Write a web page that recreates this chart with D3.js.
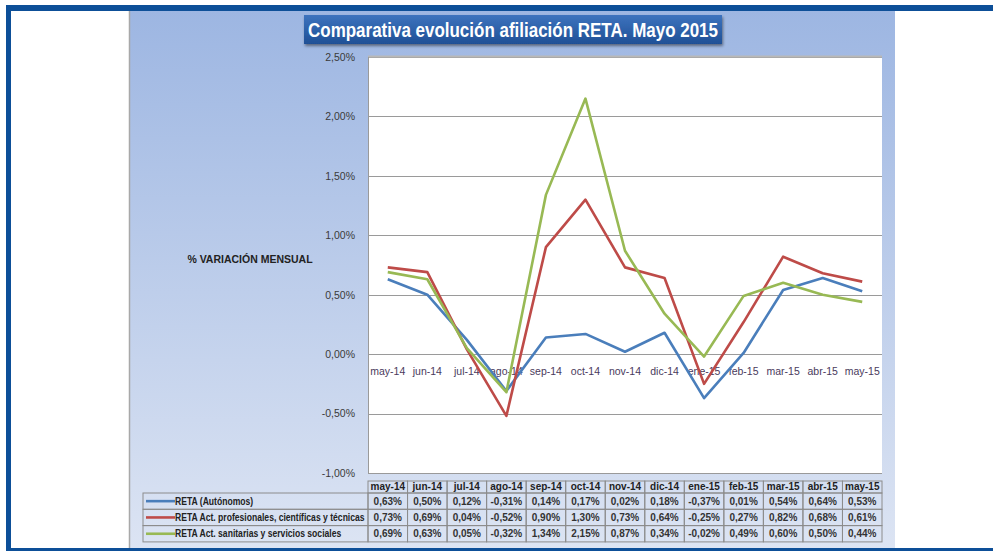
<!DOCTYPE html>
<html><head><meta charset="utf-8">
<script src="https://cdn.jsdelivr.net/npm/d3@7/dist/d3.min.js"></script>
<style>html,body{margin:0;padding:0;background:#fff;}svg{display:block;font-family:"Liberation Sans",Arial,sans-serif;}</style>
</head><body><svg id="c" width="993" height="551"></svg>
<script>
const categories = ["may-14","jun-14","jul-14","ago-14","sep-14","oct-14","nov-14","dic-14","ene-15","feb-15","mar-15","abr-15","may-15"];
const retaAutonomos = [0.63,0.50,0.12,-0.31,0.14,0.17,0.02,0.18,-0.37,0.01,0.54,0.64,0.53];
const retaProfesionales = [0.73,0.69,0.04,-0.52,0.90,1.30,0.73,0.64,-0.25,0.27,0.82,0.68,0.61];
const retaSanitarias = [0.69,0.63,0.05,-0.32,1.34,2.15,0.87,0.34,-0.02,0.49,0.60,0.50,0.44];
const seriesNames = ["RETA (Autónomos)","RETA Act. profesionales, científicas y técnicas","RETA Act. sanitarias y servicios sociales"];
const yTicks = [-1,-0.5,0,0.5,1,1.5,2,2.5];
const title = "Comparativa evolución afiliación RETA. Mayo 2015";
const yTitle = "% VARIACIÓN MENSUAL";

const series = [
  {name: seriesNames[0], values: retaAutonomos, color: "#4A7EBB"},
  {name: seriesNames[1], values: retaProfesionales, color: "#BE4B48"},
  {name: seriesNames[2], values: retaSanitarias, color: "#98B954"}
];

const svg = d3.select("#c");
const fmt = v => d3.format(".2f")(v).replace(".", ",").replace("\u2212", "-") + "%";

const defs = svg.append("defs");
const g1 = defs.append("linearGradient").attr("id","panel").attr("x1",0).attr("y1",0).attr("x2",0).attr("y2",1);
g1.append("stop").attr("offset","0%").attr("stop-color","#9DB6E2");
g1.append("stop").attr("offset","100%").attr("stop-color","#DCE4F3");
const g2 = defs.append("linearGradient").attr("id","tbox").attr("x1",0).attr("y1",0).attr("x2",0).attr("y2",1);
g2.append("stop").attr("offset","0%").attr("stop-color","#3D73BE");
g2.append("stop").attr("offset","100%").attr("stop-color","#1F5096");
const f = defs.append("filter").attr("id","sh").attr("x","-10%").attr("y","-30%").attr("width","120%").attr("height","170%");
f.append("feDropShadow").attr("dx",1).attr("dy",2).attr("stdDeviation",1.5).attr("flood-color","#000").attr("flood-opacity",0.45);

// outer frame
svg.append("rect").attr("x",6).attr("y",5).attr("width",987).attr("height",6).attr("fill","#0D4F98");
svg.append("rect").attr("x",6).attr("y",5).attr("width",5).attr("height",546).attr("fill","#0D4F98");
svg.append("rect").attr("x",6).attr("y",548).attr("width",987).attr("height",3).attr("fill","#0D4F98");

// panel
svg.append("rect").attr("x",130).attr("y",11).attr("width",765).attr("height",537).attr("fill","url(#panel)");
svg.append("line").attr("x1",129.5).attr("x2",129.5).attr("y1",11).attr("y2",548).attr("stroke","#A8A8A8").attr("stroke-width",1.5);

const L = 368, R = 882, T = 57, B = 473;
const x = d3.scaleBand().domain(categories).range([L, R]);
const y = d3.scaleLinear().domain([-1, 2.5]).range([B, T]);
const cx = c => x(c) + x.bandwidth()/2;

// plot area
svg.append("rect").attr("x",L).attr("y",T).attr("width",R-L).attr("height",B-T).attr("fill","#fff");
svg.append("g").selectAll("line").data(yTicks).join("line")
  .attr("x1",L).attr("x2",R).attr("y1",d=>Math.round(y(d))+0.5).attr("y2",d=>Math.round(y(d))+0.5)
  .attr("stroke","#9A9A9A").attr("stroke-width",1);
svg.append("line").attr("x1",L).attr("x2",R).attr("y1",T-0.5).attr("y2",T-0.5).attr("stroke","#B8B8B8").attr("stroke-width",2);
svg.append("line").attr("x1",L+0.5).attr("x2",L+0.5).attr("y1",T).attr("y2",B).attr("stroke","#9A9A9A");

// y axis labels
const yAxis = d3.axisLeft(y).tickValues(yTicks).tickFormat(fmt).tickSize(0).tickPadding(0);
const ya = svg.append("g").attr("transform",`translate(${L-13},0)`).call(yAxis);
ya.select(".domain").remove();
ya.selectAll("text").attr("font-size","10.5px").attr("fill","#3A3A3A").attr("font-family","'Liberation Sans',Arial,sans-serif");

svg.append("text").attr("x",250).attr("y",263).attr("text-anchor","middle")
  .attr("font-size","10.5px").attr("font-weight","bold").attr("fill","#222").text(yTitle);

// category labels
svg.append("g").selectAll("text").data(categories).join("text")
  .attr("x",d=>cx(d)).attr("y",y(0)+21).attr("text-anchor","middle")
  .attr("font-size","10.5px").attr("fill","#4A3A5C").text(d=>d);

// lines
const line = d3.line().x((d,i)=>cx(categories[i])).y(d=>y(d));
svg.append("g").selectAll("path").data(series).join("path")
  .attr("d",d=>line(d.values)).attr("fill","none").attr("stroke",d=>d.color)
  .attr("stroke-width",2.6).attr("stroke-linejoin","round");

// title
svg.append("rect").attr("x",304).attr("y",15).attr("width",418).attr("height",29)
  .attr("fill","url(#tbox)").attr("filter","url(#sh)");
svg.append("text").attr("x",513).attr("y",37).attr("text-anchor","middle")
  .attr("font-family","'Liberation Sans Narrow','Arial Narrow','Liberation Sans',sans-serif")
  .attr("font-weight","bold").attr("font-size","21px").attr("fill","#fff")
  .attr("textLength",410).attr("lengthAdjust","spacingAndGlyphs").text(title);

// data table
const hT = 481, hB = 493, rowH = 16.3;
const tg = svg.append("g");
const gridStroke = "#8C8C8C";
tg.selectAll("rect.h").data(categories).join("rect").attr("class","h")
  .attr("x",d=>x(d)).attr("y",hT).attr("width",x.bandwidth()).attr("height",hB-hT)
  .attr("fill","none").attr("stroke",gridStroke);
tg.selectAll("text.h").data(categories).join("text").attr("class","h")
  .attr("x",d=>cx(d)).attr("y",hB-3).attr("text-anchor","middle")
  .attr("font-size","10px").attr("font-weight","bold").attr("fill","#222").text(d=>d);
const legTexts = [];
series.forEach((s,si)=>{
  const ry = hB + si*rowH;
  tg.append("rect").attr("x",143).attr("y",ry).attr("width",L-143).attr("height",rowH)
    .attr("fill","none").attr("stroke",gridStroke);
  tg.append("line").attr("x1",146).attr("x2",175).attr("y1",ry+rowH/2).attr("y2",ry+rowH/2)
    .attr("stroke",s.color).attr("stroke-width",2.6);
  const t = tg.append("text").attr("x",0).attr("y",0).attr("font-size","10.5px")
    .attr("font-weight","bold").attr("fill","#222").text(s.name);
  legTexts.push({t, ry});
  tg.selectAll(null).data(categories).join("rect")
    .attr("x",d=>x(d)).attr("y",ry).attr("width",x.bandwidth()).attr("height",rowH)
    .attr("fill","none").attr("stroke",gridStroke);
  tg.selectAll(null).data(s.values).join("text")
    .attr("x",(d,i)=>cx(categories[i])).attr("y",ry+rowH/2+3.5).attr("text-anchor","middle")
    .attr("font-size","10px").attr("font-weight","bold").attr("fill","#333").text(d=>fmt(d));
});
// uniform horizontal condensing so the longest legend label fits its cell
const longest = d3.max(legTexts, d => d.t.node().getComputedTextLength());
const sx = 190 / longest;
legTexts.forEach(({t, ry}) => t.attr("transform", `translate(175,${ry+rowH/2+3.7}) scale(${sx},1)`));
</script></body></html>
